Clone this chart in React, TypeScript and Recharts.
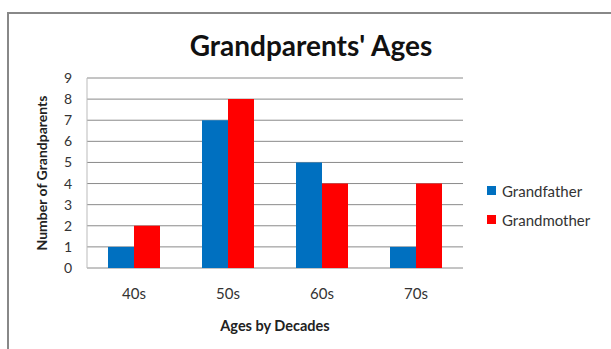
import { BarChart, Bar, XAxis, YAxis, CartesianGrid, Label } from "recharts";

const decades = ["40s", "50s", "60s", "70s"];
const grandfather = [1, 7, 5, 1];
const grandmother = [2, 8, 4, 4];
const yTicks = [0, 1, 2, 3, 4, 5, 6, 7, 8, 9];

const data = decades.map((d, i) => ({
  decade: d,
  Grandfather: grandfather[i],
  Grandmother: grandmother[i],
}));

const FONT = "Lato, 'Open Sans', sans-serif";

const legendItems = [
  { name: "Grandfather", color: "#0070C0" },
  { name: "Grandmother", color: "#FF0000" },
];

export default function App() {
  return (
    <div style={{ position: "absolute", left: 0, top: 0, width: 611, height: 349, background: "#fff", overflow: "hidden" }}>
      <div
        style={{
          position: "absolute",
          left: 7,
          top: 12,
          width: 700,
          height: 400,
          borderTop: "2px solid #888",
          borderLeft: "2px solid #888",
        }}
      />
      <div
        style={{
          position: "absolute",
          left: 0,
          width: 622,
          top: 29,
          textAlign: "center",
          fontFamily: FONT,
          fontWeight: 700,
          fontSize: 28,
          color: "#111",
          lineHeight: "32px",
        }}
      >
        Grandparents' Ages
      </div>
      <div style={{ position: "absolute", left: 0, top: 0 }}>
        <BarChart
          width={611}
          height={349}
          data={data}
          margin={{ top: 78, right: 148, bottom: 0, left: 0 }}
          barCategoryGap={21}
          barGap={0}
        >
          <CartesianGrid vertical={false} stroke="#8a8a8a" />
          <XAxis
            dataKey="decade"
            height={81}
            axisLine={false}
            tickLine={false}
            tickMargin={14}
            tick={{ fill: "#333", fontSize: 15, fontFamily: FONT }}
          >
            <Label
              value="Ages by Decades"
              position="insideBottom"
              offset={18}
              style={{ fill: "#222", fontSize: 14.5, fontWeight: 700, fontFamily: FONT }}
            />
          </XAxis>
          <YAxis
            width={87}
            domain={[0, 9]}
            ticks={yTicks}
            interval={0}
            axisLine={{ stroke: "#bbb" }}
            tickLine={false}
            tickMargin={9}
            tick={{ fill: "#333", fontSize: 14, fontFamily: FONT }}
          >
            <Label
              value="Number of Grandparents"
              position="center"
              angle={-90}
              dx={-1}
              style={{ fill: "#222", fontSize: 14, fontWeight: 700, fontFamily: FONT, textAnchor: "middle" }}
            />
          </YAxis>
          <Bar dataKey="Grandfather" fill="#0070C0" isAnimationActive={false} />
          <Bar dataKey="Grandmother" fill="#FF0000" isAnimationActive={false} />
        </BarChart>
      </div>
      <div style={{ position: "absolute", left: 487, top: 176, fontFamily: FONT, fontSize: 15, color: "#333" }}>
        {legendItems.map((it) => (
          <div key={it.name} style={{ display: "flex", alignItems: "center", height: 29 }}>
            <span style={{ width: 9, height: 9, background: it.color, marginRight: 6, display: "inline-block" }} />
            {it.name}
          </div>
        ))}
      </div>
    </div>
  );
}
